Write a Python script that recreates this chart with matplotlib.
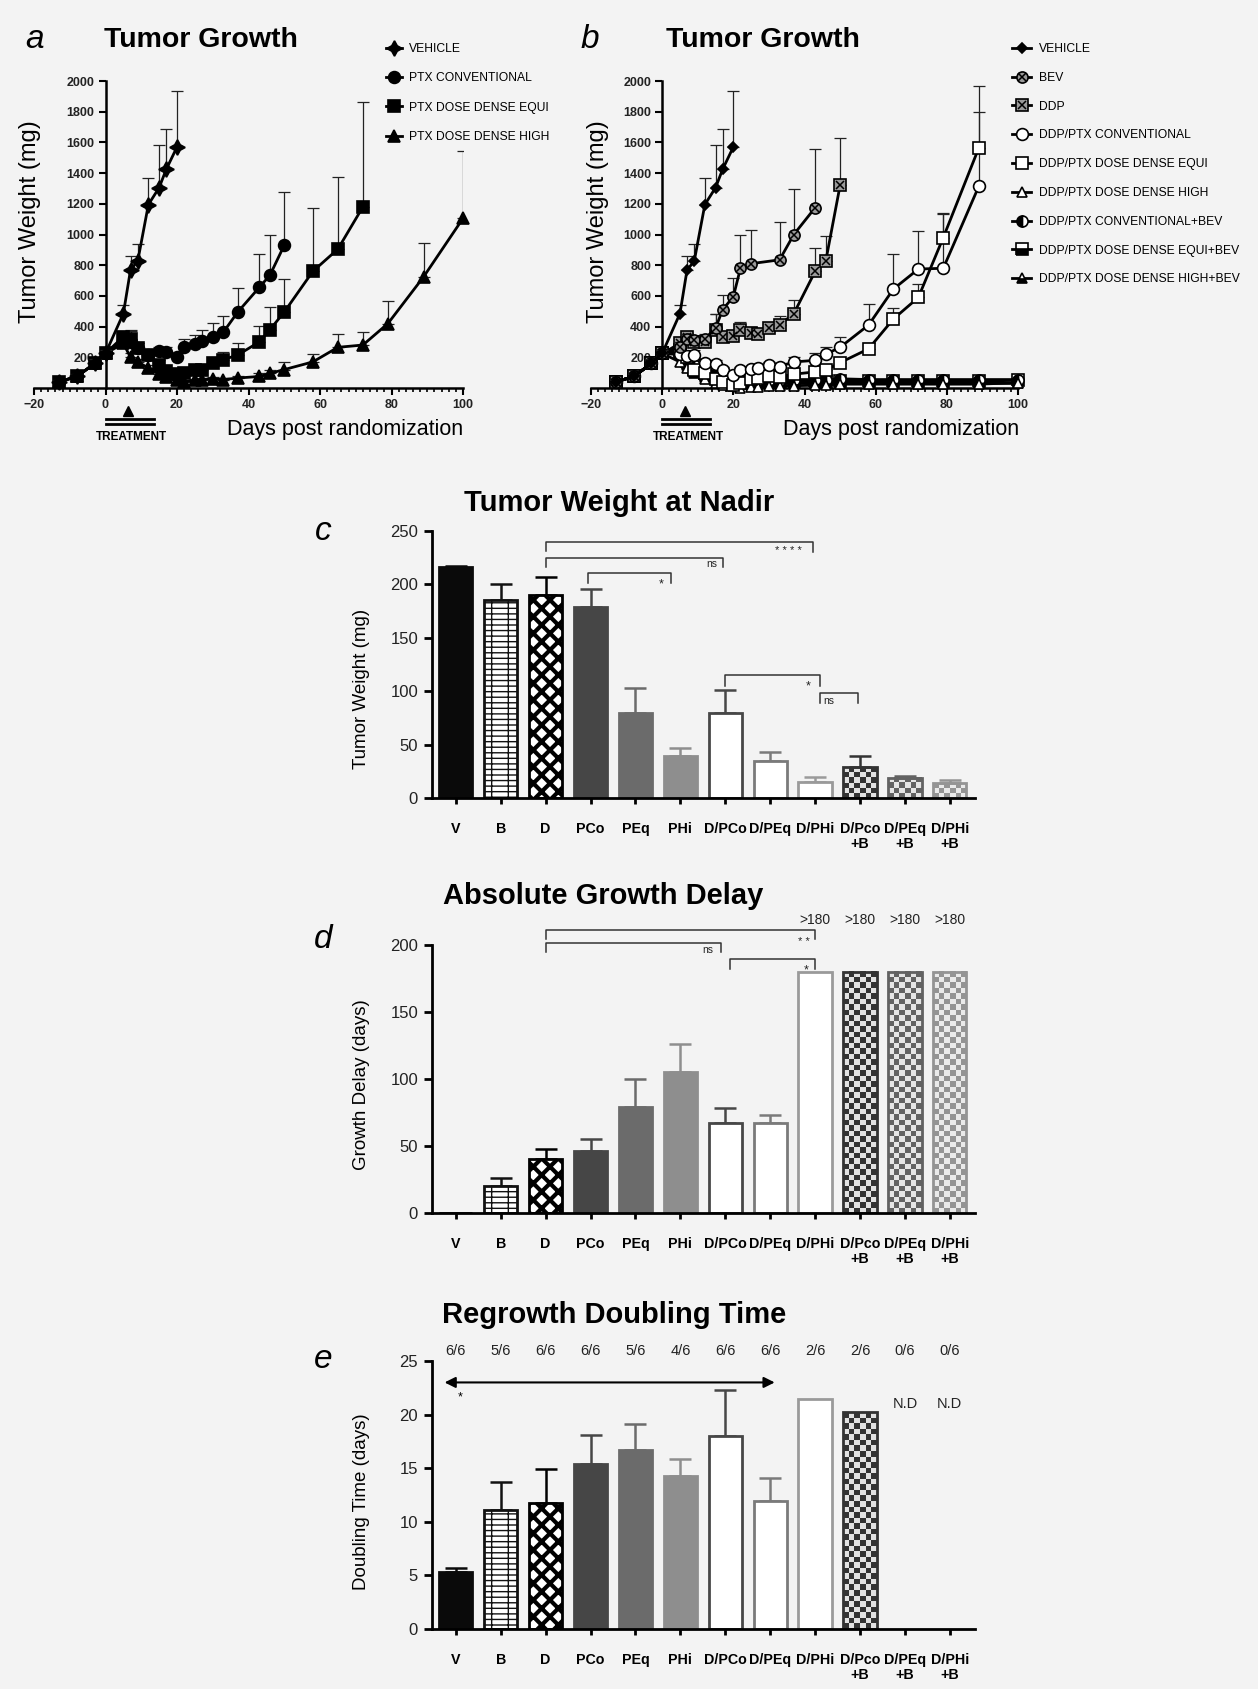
import numpy as np
import matplotlib
matplotlib.use('Agg')
import matplotlib.pyplot as plt
from matplotlib.colors import ListedColormap
from matplotlib.legend_handler import HandlerTuple

plt.rcParams['font.family'] = ['Liberation Sans', 'DejaVu Sans']
BG = '#f3f3f3'

# ---------------- tumour growth curves (mean and mean+SD) ----------------
VEH_DAYS = [-13, -8, -3, 0, 5, 7, 9, 12, 15, 17, 20]
VEH_MEAN = [40, 75, 160, 225, 485, 770, 825, 1195, 1305, 1425, 1570]
VEH_TOP = [50, 90, 190, 250, 540, 860, 935, 1370, 1585, 1690, 1935]

CONV_DAYS = [-13, -8, -3, 0, 5, 7, 9, 12, 15, 17, 20, 22, 25, 27, 30, 33, 37, 43, 46, 50]
CONV_MEAN = [40, 75, 160, 225, 310, 300, 260, 215, 240, 235, 200, 265, 285, 305, 335, 365, 495, 655, 735, 930]
CONV_TOP = [50, 90, 190, 250, 360, 370, 290, 250, 265, 270, 230, 320, 345, 375, 425, 470, 650, 870, 995, 1275]

EQUI_DAYS = [-13, -8, -3, 0, 5, 7, 9, 12, 15, 17, 20, 22, 25, 27, 30, 33, 37, 43, 46, 50, 58, 65, 72]
EQUI_MEAN = [40, 75, 160, 225, 335, 320, 260, 215, 150, 110, 90, 100, 115, 115, 160, 185, 215, 300, 380, 495,
             760, 905, 1180]
EQUI_TOP = [50, 90, 190, 250, 370, 375, 290, 240, 180, 130, 110, 120, 130, 135, 195, 235, 290, 405, 530, 710,
            1175, 1375, 1860]

HIGH_DAYS = [-13, -8, -3, 0, 5, 7, 9, 12, 15, 17, 20, 22, 25, 27, 30, 33, 37, 43, 46, 50, 58, 65, 72, 79, 89, 100]
HIGH_MEAN = [40, 75, 160, 225, 290, 200, 170, 130, 90, 70, 50, 40, 50, 55, 60, 55, 65, 75, 95, 120, 170, 265, 280,
             420, 725, 1105]
HIGH_TOP = [50, 90, 190, 250, 320, 230, 190, 150, 105, 85, 65, 55, 60, 65, 70, 65, 80, 95, 115, 170, 220, 350, 365,
            570, 945, 1545]

BEV_DAYS = [-13, -8, -3, 0, 5, 7, 9, 12, 15, 17, 20, 22, 25, 33, 37, 43]
BEV_MEAN = [40, 75, 160, 225, 270, 320, 310, 320, 390, 510, 595, 780, 810, 835, 1000, 1175]
BEV_TOP = [50, 90, 190, 250, 300, 350, 340, 350, 480, 605, 715, 1000, 1030, 1080, 1295, 1555]

DDP_DAYS = [-13, -8, -3, 0, 5, 7, 9, 12, 15, 17, 20, 22, 25, 27, 30, 33, 37, 43, 46, 50]
DDP_MEAN = [40, 75, 160, 225, 290, 330, 300, 300, 380, 330, 340, 380, 360, 355, 390, 410, 485, 760, 830, 1320]
DDP_TOP = [50, 90, 190, 250, 330, 360, 330, 330, 480, 360, 380, 430, 400, 390, 420, 470, 575, 910, 990, 1630]

DCONV_DAYS = [-13, -8, -3, 0, 5, 7, 9, 12, 15, 17, 20, 22, 25, 27, 30, 33, 37, 43, 46, 50, 58, 65, 72, 79, 89]
DCONV_MEAN = [40, 75, 160, 225, 220, 210, 215, 160, 155, 120, 85, 120, 125, 130, 150, 140, 170, 180, 220, 265,
              410, 645, 775, 780, 1315]
DCONV_TOP = [50, 90, 190, 250, 250, 240, 245, 185, 180, 140, 100, 140, 145, 150, 170, 160, 200, 225, 270, 335,
             550, 870, 1025, 1135, 1795]

DEQUI_DAYS = DCONV_DAYS
DEQUI_MEAN = [40, 75, 160, 225, 250, 200, 120, 95, 60, 40, 20, 30, 60, 65, 75, 70, 90, 105, 115, 165, 255, 450,
              590, 980, 1565]
DEQUI_TOP = [50, 90, 190, 250, 280, 230, 140, 110, 75, 50, 30, 40, 75, 80, 90, 85, 110, 130, 140, 190, 290, 520,
             675, 1140, 1970]

LATE_DAYS = [-13, -8, -3, 0, 5, 7, 9, 12, 15, 17, 20, 22, 25, 27, 30, 33, 37, 43, 46, 50, 58, 65, 72, 79, 89, 100]
DHIGH_MEAN = [40, 75, 160, 225, 170, 130, 110, 60, 35, 20, 10, 0, 5, 8, 10, 10, 15, 18, 20, 25, 25, 25, 25, 25,
              25, 35]
CONVB_MEAN = [40, 75, 160, 225, 230, 180, 150, 120, 90, 70, 60, 55, 55, 55, 55, 55, 55, 55, 55, 60, 55, 55, 55,
              55, 55, 55]
EQUIB_MEAN = [40, 75, 160, 225, 230, 170, 120, 90, 70, 55, 50, 45, 45, 45, 45, 45, 45, 45, 45, 45, 45, 45, 45,
              45, 45, 50]
HIGHB_MEAN = [40, 75, 160, 225, 220, 150, 100, 70, 50, 40, 30, 30, 30, 30, 30, 30, 30, 30, 30, 30, 30, 30, 30,
              30, 30, 30]

# ---------------- bar panels ----------------
GROUPS = ['V', 'B', 'D', 'PCo', 'PEq', 'PHi', 'D/PCo', 'D/PEq', 'D/PHi', 'D/Pco\n+B', 'D/PEq\n+B', 'D/PHi\n+B']
NADIR = [216, 185, 190, 179, 80, 39, 80, 35, 15, 29, 19, 14]
NADIR_TOP = [217, 200, 207, 196, 103, 47, 101, 43, 20, 39, 21, 17]
DELAY = [0, 20, 40, 46, 79, 105, 67, 67, 180, 180, 180, 180]
DELAY_TOP = [0, 26, 48, 55, 100, 126, 78, 73, np.nan, np.nan, np.nan, np.nan]
DOUBLING = [5.3, 11.1, 11.8, 15.4, 16.7, 14.3, 18.0, 11.9, 21.5, 20.2, np.nan, np.nan]
DOUBLING_TOP = [5.7, 13.7, 14.9, 18.1, 19.1, 15.9, 22.3, 14.1, np.nan, np.nan, np.nan, np.nan]
REGROWTH_N = ['6/6', '5/6', '6/6', '6/6', '5/6', '4/6', '6/6', '6/6', '2/6', '2/6', '0/6', '0/6']

# bar look: (face, edge, hatch, checker colours)
STYLES = [
    ('#0a0a0a', '#0a0a0a', None, None),
    ('white', '#111111', '---|', None),
    ('white', '#000000', 'xx', None),
    ('#464646', '#464646', None, None),
    ('#6b6b6b', '#6b6b6b', None, None),
    ('#8e8e8e', '#8e8e8e', None, None),
    ('white', '#474747', None, None),
    ('white', '#7a7a7a', None, None),
    ('white', '#9a9a9a', None, None),
    ('none', '#333333', None, ('#333333', '#e2e2e2')),
    ('none', '#626262', None, ('#626262', '#e4e4e4')),
    ('none', '#949494', None, ('#949494', '#eaeaea')),
]

W, H = 1258, 1689
fig = plt.figure(figsize=(W / 100, H / 100), dpi=100, facecolor=BG)


def fx(px):
    return px / W


def fy(py):
    return 1 - py / H


def growth_axes(left, right):
    ax = fig.add_axes([fx(left), fy(388), fx(right - left), 307 / H], facecolor=BG)
    ax.set_xlim(-20, 100)
    ax.set_ylim(0, 2000)
    for s in ('top', 'right'):
        ax.spines[s].set_visible(False)
    ax.spines['left'].set_position(('data', 0))
    ax.spines['left'].set_linewidth(1.8)
    ax.spines['bottom'].set_linewidth(1.8)
    ax.set_xticks(range(-20, 101, 20))
    ax.set_xticks(range(-20, 101, 2), minor=True)
    ax.set_yticks(range(200, 2001, 200))
    ax.tick_params(axis='both', which='major', direction='out', length=5, width=1.5, labelsize=9, pad=3)
    ax.tick_params(axis='x', which='minor', direction='out', length=3, width=1.2)
    for lab in ax.get_xticklabels() + ax.get_yticklabels():
        lab.set_fontweight('bold')
        lab.set_color('#222222')
    # treatment marker under the axis
    tr = ax.get_xaxis_transform()
    ax.plot([0, 13.5], [-0.100, -0.100], color='black', lw=2, transform=tr, clip_on=False)
    ax.plot([0, 13.5], [-0.117, -0.117], color='black', lw=2, transform=tr, clip_on=False)
    ax.plot([6.4], [-0.075], marker='^', ms=7, color='black', transform=tr, clip_on=False)
    ax.text(7.3, -0.16, 'TREATMENT', transform=tr, ha='center', va='center', fontsize=8.5, fontweight='bold')
    return ax


def curve(ax, days, mean, top, ms, err=True, zorder=3, **kw):
    days = np.asarray(days)
    mean = np.asarray(mean, float)
    if err and top is not None:
        top = np.asarray(top, float)
        ax.errorbar(days, mean, yerr=[np.zeros_like(mean), top - mean], fmt='none', ecolor='#222222',
                    elinewidth=0.9, capsize=4.5, capthick=0.9, zorder=zorder - 0.5)
    ln, = ax.plot(days, mean, color='black', lw=2, ms=ms, mec='black', mew=1.2, zorder=zorder, clip_on=False, **kw)
    return ln


# ---------------- panel a ----------------
axa = growth_axes(34, 463)
h1 = curve(axa, VEH_DAYS, VEH_MEAN, VEH_TOP, 11, marker=(4, 1, 0), mfc='black', zorder=5)
h2 = curve(axa, CONV_DAYS, CONV_MEAN, CONV_TOP, 8.5, marker='o', mfc='black')
h3 = curve(axa, EQUI_DAYS, EQUI_MEAN, EQUI_TOP, 8.5, marker='s', mfc='black')
h4 = curve(axa, HIGH_DAYS, HIGH_MEAN, HIGH_TOP, 8.5, marker='^', mfc='black')
fig.legend([h1, h2, h3, h4], ['VEHICLE', 'PTX CONVENTIONAL', 'PTX DOSE DENSE EQUI', 'PTX DOSE DENSE HIGH'],
           loc='upper left', bbox_to_anchor=(fx(386), fy(43)), frameon=False, fontsize=8.7,
           handlelength=1.3, handletextpad=0.6, labelspacing=1.43, borderpad=0, borderaxespad=0)

# ---------------- panel b ----------------
axb = growth_axes(591, 1018)
g1 = curve(axb, VEH_DAYS, VEH_MEAN, VEH_TOP, 5.5, marker='D', mfc='black', zorder=6)
g2 = curve(axb, BEV_DAYS, BEV_MEAN, BEV_TOP, 8, marker='o', mfc='#9a9a9a', zorder=5)
g2x, = axb.plot(BEV_DAYS, BEV_MEAN, ls='none', marker='x', ms=6, mec='black', mew=1.1, zorder=5.1)
g3 = curve(axb, DDP_DAYS, DDP_MEAN, DDP_TOP, 8, marker='s', mfc='#9a9a9a', zorder=4)
g3x, = axb.plot(DDP_DAYS, DDP_MEAN, ls='none', marker='x', ms=6, mec='black', mew=1.1, zorder=4.1)
g4 = curve(axb, DCONV_DAYS, DCONV_MEAN, DCONV_TOP, 8.5, marker='o', mfc='white', zorder=3.5)
g5 = curve(axb, DEQUI_DAYS, DEQUI_MEAN, DEQUI_TOP, 8.5, marker='s', mfc='white', zorder=3.4)
g6 = curve(axb, LATE_DAYS, DHIGH_MEAN, None, 7.5, marker='^', mfc='white', zorder=3.3)
g7 = curve(axb, LATE_DAYS, CONVB_MEAN, None, 8, marker='o', fillstyle='left', mfc='black', mfcalt='white',
           zorder=3.2)
g8 = curve(axb, LATE_DAYS, EQUIB_MEAN, None, 8, marker='s', fillstyle='bottom', mfc='black', mfcalt='white',
           zorder=3.1)
g9 = curve(axb, LATE_DAYS, HIGHB_MEAN, None, 7.5, marker='^', fillstyle='bottom', mfc='black', mfcalt='white',
           zorder=3.0)
fig.legend([g1, (g2, g2x), (g3, g3x), g4, g5, g6, g7, g8, g9],
           ['VEHICLE', 'BEV', 'DDP', 'DDP/PTX CONVENTIONAL', 'DDP/PTX DOSE DENSE EQUI', 'DDP/PTX DOSE DENSE HIGH',
            'DDP/PTX CONVENTIONAL+BEV', 'DDP/PTX DOSE DENSE EQUI+BEV', 'DDP/PTX DOSE DENSE HIGH+BEV'],
           handler_map={tuple: HandlerTuple(ndivide=1)},
           loc='upper left', bbox_to_anchor=(fx(1012), fy(43)), frameon=False, fontsize=8.7,
           handlelength=1.6, handletextpad=0.6, labelspacing=1.39, borderpad=0, borderaxespad=0)

fig.text(fx(35), fy(40), 'a', fontsize=24, style='italic', ha='center', va='center')
fig.text(fx(201), fy(40), 'Tumor Growth', fontsize=20.5, fontweight='bold', ha='center', va='center')
fig.text(fx(590), fy(40), 'b', fontsize=24, style='italic', ha='center', va='center')
fig.text(fx(763), fy(40), 'Tumor Growth', fontsize=20.5, fontweight='bold', ha='center', va='center')
fig.text(fx(30), fy(222), 'Tumor Weight (mg)', fontsize=17, rotation=90, ha='center', va='center')
fig.text(fx(598), fy(222), 'Tumor Weight (mg)', fontsize=17, rotation=90, ha='center', va='center')
fig.text(fx(345), fy(429), 'Days post randomization', fontsize=15.5, ha='center', va='center')
fig.text(fx(901), fy(429), 'Days post randomization', fontsize=15.5, ha='center', va='center')


# ---------------- bar panels ----------------
def bar_axes(bottom_px, top_px, ymax, ystep):
    ax = fig.add_axes([fx(432), fy(bottom_px), fx(975 - 432), (bottom_px - top_px) / H], facecolor=BG)
    for s in ('top', 'right'):
        ax.spines[s].set_visible(False)
    ax.spines['left'].set_linewidth(2)
    ax.spines['bottom'].set_linewidth(2)
    ax.set_yticks(np.arange(0, ymax + 0.1, ystep))
    ax.tick_params(axis='y', direction='out', length=6, width=2, labelsize=12, pad=4, labelcolor='#222222')
    ax.tick_params(axis='x', direction='out', length=4, width=2, labelsize=10.3, pad=13)
    return ax


def draw_bars(ax, vals, tops, ymax):
    x = np.arange(len(GROUPS))
    ax_h_px = ax.get_position().height * H
    cell_h = 5.5 * ymax / ax_h_px
    for i, (v, t) in enumerate(zip(vals, tops)):
        face, edge, hatch, chk = STYLES[i]
        if np.isnan(v):
            continue
        rect = ax.bar(x[i], v, width=0.74, color=face, edgecolor=edge, lw=2, hatch=hatch, zorder=2)[0]
        if hatch is not None:
            hl = 3.0 if hatch == 'xx' else 1.0
            if hasattr(rect, 'set_hatch_linewidth'):
                rect.set_hatch_linewidth(hl)
        if chk is not None and v > 0:
            ny = max(1, int(round(v / cell_h)))
            grid = np.add.outer(np.arange(ny), np.arange(6)) % 2
            ax.imshow(grid, extent=(x[i] - 0.37, x[i] + 0.37, 0, v), cmap=ListedColormap(list(chk)),
                      aspect='auto', interpolation='nearest', origin='lower', zorder=1.5)
        if not np.isnan(t) and t > v:
            ax.errorbar(x[i], v, yerr=[[0], [t - v]], fmt='none', ecolor=edge, elinewidth=1.8, capsize=8,
                        capthick=1.8, zorder=1.9)
    ax.set_xticks(x)
    ax.set_xticklabels(GROUPS, fontweight='bold', va='top', linespacing=1.15)
    ax.set_xlim(-0.53, 11.56)
    ax.set_ylim(0, ymax)


def bracket(ax, x0, x1, y, y0, y1, text, tx, ty, fs):
    ax.plot([x0, x0, x1, x1], [y0, y, y, y1], color='#333333', lw=1.1, clip_on=False, zorder=4)
    ax.text(tx, ty, text, ha='center', va='center', fontsize=fs, color='#222222')


# c
axc = bar_axes(798, 531, 250, 50)
draw_bars(axc, NADIR, NADIR_TOP, 250)
bracket(axc, 2, 7.95, 240, 231, 230, '* * * *', 7.4, 231, 8)
bracket(axc, 2, 5.95, 225, 216.5, 216.5, 'ns', 5.7, 219, 7.5)
bracket(axc, 2.95, 4.8, 211, 201, 201, '*', 4.57, 200, 9)
bracket(axc, 6.0, 8.1, 115, 104.5, 104.5, '*', 7.85, 104, 9)
bracket(axc, 8.1, 8.95, 98.5, 88.5, 88.5, 'ns', 8.3, 91, 7.5)

# d
axd = bar_axes(1213, 945, 200, 50)
draw_bars(axd, DELAY, DELAY_TOP, 200)
bracket(axd, 2, 8.0, 211, 204.5, 204.5, '* *', 7.75, 202.5, 8)
bracket(axd, 2, 5.9, 201.5, 195, 195, 'ns', 5.6, 196, 7.5)
bracket(axd, 6.1, 8.0, 189.5, 182, 182, '*', 7.8, 181, 9)
for i, v in enumerate(DELAY):
    if v >= 180:
        axd.text(i, 219, '>180', ha='center', va='center', fontsize=10, color='#222222')

# e
axe = bar_axes(1629, 1361, 25, 5)
draw_bars(axe, DOUBLING, DOUBLING_TOP, 25)
for i, lab in enumerate(REGROWTH_N):
    axe.text(i, 25.9, lab, ha='center', va='center', fontsize=10.5, color='#222222')
    if np.isnan(DOUBLING[i]):
        axe.text(i, 21.0, 'N.D', ha='center', va='center', fontsize=10.5, color='#222222')
axe.annotate('', xy=(7.1, 23), xytext=(-0.25, 23),
             arrowprops=dict(arrowstyle='<|-|>', color='black', lw=1.5, mutation_scale=16, shrinkA=0, shrinkB=0))
axe.text(0.1, 21.6, '*', ha='center', va='center', fontsize=9)

fig.text(fx(619), fy(503), 'Tumor Weight at Nadir', fontsize=21, fontweight='bold', ha='center', va='center')
fig.text(fx(603), fy(896), 'Absolute Growth Delay', fontsize=21, fontweight='bold', ha='center', va='center')
fig.text(fx(614), fy(1315), 'Regrowth Doubling Time', fontsize=21, fontweight='bold', ha='center', va='center')
fig.text(fx(323), fy(532), 'c', fontsize=24, style='italic', ha='center', va='center')
fig.text(fx(323), fy(939), 'd', fontsize=24, style='italic', ha='center', va='center')
fig.text(fx(323), fy(1359), 'e', fontsize=24, style='italic', ha='center', va='center')
fig.text(fx(361), fy(689), 'Tumor Weight (mg)', fontsize=13.5, rotation=90, ha='center', va='center')
fig.text(fx(361), fy(1085), 'Growth Delay (days)', fontsize=13.5, rotation=90, ha='center', va='center')
fig.text(fx(361), fy(1502), 'Doubling Time (days)', fontsize=13.5, rotation=90, ha='center', va='center')

fig.savefig('out.png', dpi=100, facecolor=BG)
